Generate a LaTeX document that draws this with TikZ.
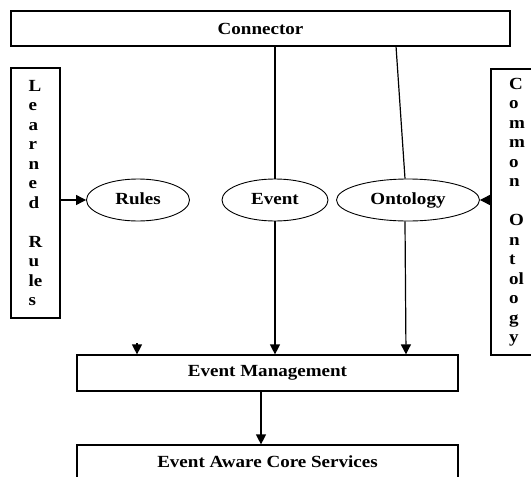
\documentclass[tikz,border=0pt]{standalone}
\usepackage{fontspec}
\setmainfont{Liberation Serif}[FakeStretch=1.12]
\usepackage{tikz}
\usetikzlibrary{positioning,shapes.geometric,arrows.meta}

\begin{document}
\begin{tikzpicture}[
    x=1pt, y=-1pt,
    font=\fontsize{17}{19.5}\selectfont\bfseries,
    box/.style={rectangle, draw, line width=1.2pt, inner sep=0pt, align=center},
    oval/.style={ellipse, draw, line width=0.9pt, inner sep=0pt, minimum height=42pt,
                 text height=11pt, text depth=3pt},
    arr/.style={-{Triangle[length=10pt,width=10pt]}, line width=1.2pt},
    link/.style={line width=1.2pt}
  ]
    \useasboundingbox (0,0) rectangle (531,477);

    \node[box, minimum width=499pt, minimum height=35pt] (conn) at (260.5,28.5) {Connector};
    \node[box, minimum width=49pt, minimum height=250pt, align=left] (learned) at (35.5,193)
        {L\\e\\a\\r\\n\\e\\d\\\mbox{}\\R\\u\\le\\s};
    \node[box, minimum width=52pt, minimum height=286pt, align=left] (common) at (517,212)
        {C\\o\\m\\m\\o\\n\\\mbox{}\\O\\n\\t\\ol\\o\\g\\y};

    \node[oval, minimum width=103pt] (rules) at (138,200) {Rules};
    \node[oval, minimum width=106pt] (event) at (275,200) {Event};
    \node[oval, minimum width=143pt] (onto)  at (408,200) {Ontology};

    \node[box, minimum width=381pt, minimum height=36pt] (evmgmt) at (267.5,373) {Event Management};
    \node[box, minimum width=381pt, minimum height=34pt] (core)   at (267.5,462) {Event Aware Core Services};

    % free ends
    \coordinate (ontotop) at (396,46);
    \coordinate (stub)    at (137,343);
    \coordinate (down)    at (261,391);

    \draw[link] (conn.south -| event) -- (event.north);
    \draw[link] (ontotop) -- ([xshift=-3pt]onto.north);
    \draw[arr]  (learned.east |- rules) -- (rules.west);
    \draw[arr]  (common.west |- onto) -- (onto.east);
    \draw[arr]  (event.south) -- (evmgmt.north -| event);
    \draw[arr]  ([xshift=-3pt]onto.south) -- (evmgmt.north -| 406,0);
    \draw[arr]  (stub) -- (evmgmt.north -| stub);
    \draw[arr]  (down) -- (core.north -| down);
\end{tikzpicture}
\end{document}
